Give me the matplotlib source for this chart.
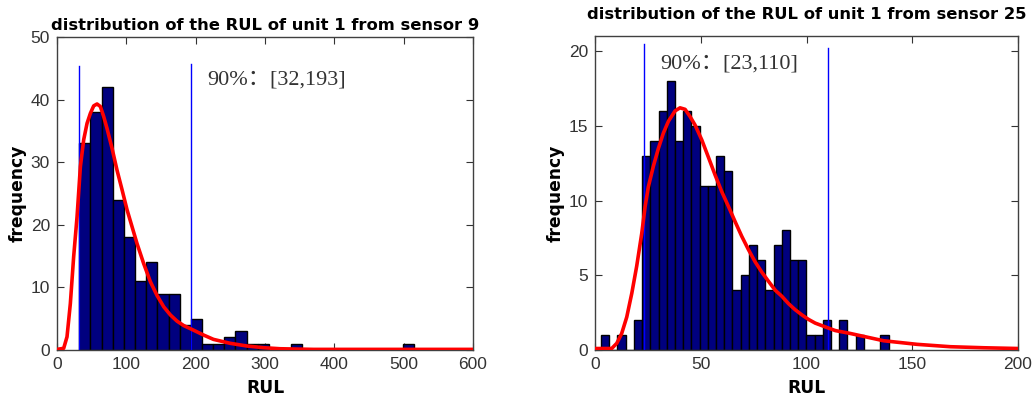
import matplotlib
matplotlib.use("Agg")
import matplotlib.pyplot as plt
import numpy as np

# sensor 9 histogram: 30 bins from 32 to 515
s9_counts = [33, 38, 42, 24, 18, 11, 14, 9, 9, 4, 5, 1, 1, 2, 3, 1, 1, 0, 0, 1,
             0, 0, 0, 0, 0, 0, 0, 0, 0, 1]
s9_range = (32, 515)
s9_fit_x = [0, 9.6, 14.4, 19.2, 24, 28.9, 33.7, 38.5, 43.3, 48.1, 52.9, 57.7, 62.5,
            67.3, 72.1, 79.4, 86.6, 93.8, 101, 108.2, 115.4, 125, 134.7, 144.3,
            153.9, 163.5, 173.2, 182.8, 194.4, 211.2, 225.6, 249.7, 273.8, 297.9,
            322, 370, 600]
s9_fit_y = [0.1, 0.27, 2.1, 7.4, 14.9, 21.3, 29.3, 33.6, 36.2, 37.8, 39.0, 39.3, 38.9,
            37.3, 35.4, 32.2, 28.7, 25.6, 22.4, 19.7, 17.0, 13.8, 10.9, 8.7,
            6.9, 5.6, 4.6, 3.9, 3.3, 2.4, 1.7, 1.07, 0.64, 0.37,
            0.2, 0.1, 0.1]
s9_bounds = [32, 193]
s9_bound_tops = [45.4, 45.7]

# sensor 25 histogram: 35 bins from 2.84 to 138.8
s25_counts = [1, 0, 1, 0, 2, 13, 14, 16, 18, 14, 16, 15, 11, 11, 13, 12, 4, 5, 7, 6,
              4, 7, 8, 6, 6, 1, 1, 2, 0, 2, 0, 1, 0, 0, 1]
s25_range = (2.84, 138.8)
s25_fit_x = [0, 7.9, 10.3, 12.6, 15, 17.4, 19.7, 22.1, 23.7, 25.2, 27.6, 30, 32.3,
             34.7, 37.9, 40.2, 42.6, 45, 47.3, 50.5, 53.6, 56.8, 59.9, 63.1, 66.2,
             69.4, 72.6, 75.7, 78.9, 82, 85.2, 88.3, 91.5, 94.6, 97.8, 100.9, 104.1,
             108.8, 113.6, 120.6, 136.4, 152.2, 168, 183.8, 200]
s25_fit_y = [0.1, 0.1, 0.45, 1.1, 2.2, 3.8, 5.6, 7.8, 9.6, 10.9, 12.3, 13.5, 14.5,
             15.3, 16.0, 16.2, 16.1, 15.6, 15.05, 14.05, 12.9, 11.7, 10.6, 9.6, 8.6,
             7.6, 6.7, 5.9, 5.2, 4.6, 4.0, 3.6, 3.1, 2.7, 2.35, 2.05, 1.8,
             1.55, 1.3, 1.11, 0.62, 0.38, 0.22, 0.15, 0.1]
s25_bounds = [23, 110]
s25_bound_tops = [20.45, 20.2]

plt.rcParams["font.family"] = ["Liberation Sans", "DejaVu Sans"]

fig = plt.figure(figsize=(10.33, 4.03), dpi=100)
ax1 = fig.add_axes([0.0552, 0.1315, 0.4027, 0.7767])
ax2 = fig.add_axes([0.576, 0.1315, 0.4095, 0.779])

bold = dict(fontweight="bold", family="DejaVu Sans")


def draw(ax, counts, rng, fx, fy, bounds, tops, title, tpad, text, text_xy,
         xlim, ylim, xticks, yticks):
    edges = np.linspace(rng[0], rng[1], len(counts) + 1)
    ax.bar(edges[:-1], counts, width=np.diff(edges), align="edge",
           color="#00007f", edgecolor="black", linewidth=1.0, zorder=2)
    for b, t in zip(bounds, tops):
        ax.plot([b, b], [0, t], color="#0000ff", linewidth=1.0, zorder=3)
    ax.plot(fx, fy, color="red", linewidth=2.6, zorder=4)
    ax.text(text_xy[0], text_xy[1], text, fontsize=16, color="#333333",
            va="center", ha="left", family=["Liberation Serif", "Noto Sans CJK SC"])
    ax.set_xlim(*xlim)
    ax.set_ylim(*ylim)
    ax.set_xticks(xticks)
    ax.set_yticks(yticks)
    ax.tick_params(direction="in", top=True, right=True, length=5, width=0.8,
                   labelsize=12.5, labelcolor="#333333", color="#333333", pad=5)
    for sp in ax.spines.values():
        sp.set_color("#404040")
        sp.set_linewidth(1.0)
    ax.set_title(title, pad=tpad, fontsize=11.8, **bold)
    ax.set_xlabel("RUL", labelpad=5, fontsize=12.3, **bold)
    ax.set_ylabel("frequency", labelpad=3, fontsize=12.3, **bold)


draw(ax1, s9_counts, s9_range, s9_fit_x, s9_fit_y, s9_bounds, s9_bound_tops,
     "distribution of the RUL of unit 1 from sensor 9", 5, "90%\uff1a[32,193]",
     (216, 43.2), (0, 600), (0, 50), range(0, 601, 100), range(0, 51, 10))
draw(ax2, s25_counts, s25_range, s25_fit_x, s25_fit_y, s25_bounds, s25_bound_tops,
     "distribution of the RUL of unit 1 from sensor 25", 12, "90%\uff1a[23,110]",
     (30.8, 19.1), (0, 200), (0, 21), range(0, 201, 50), range(0, 21, 5))

fig.savefig("out.png", dpi=100)
